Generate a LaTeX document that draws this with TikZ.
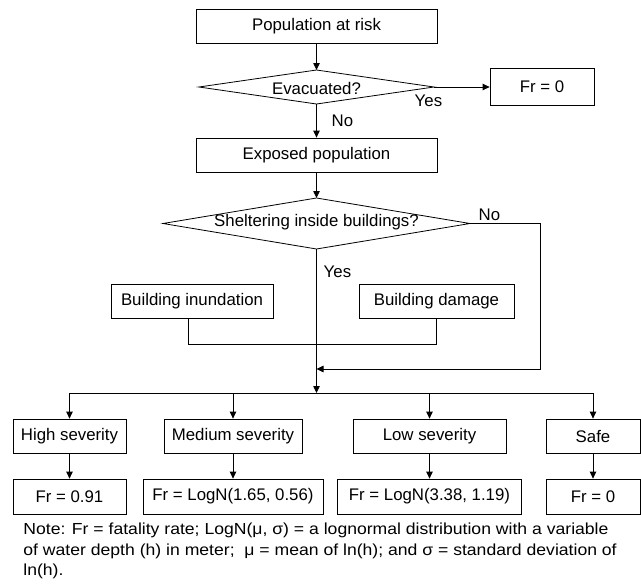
\documentclass[tikz,border=0pt]{standalone}
\usepackage{fontspec}
\setmainfont{Liberation Sans}
\newfontfamily\notefam[FakeStretch=1.1]{Liberation Sans}
\usetikzlibrary{arrows.meta}
\begin{document}
\begin{tikzpicture}[x=1pt,y=-1pt,line width=0.8pt,
  lbl/.style={font=\fontsize{16.8}{19}\selectfont},
  box/.style={draw, rectangle, inner sep=0pt, minimum height=34pt, minimum width=#1, lbl},
  arr/.style={-{Triangle[length=7pt,width=6.5pt]}},
  notefont/.style={font=\notefam\fontsize{16}{20.5}\selectfont}]
\useasboundingbox (0,0) rectangle (641,587);

% top chain
\node[box=241] (pop) at (316.5,26.5) {Population at risk};
\node[lbl] (evac) at (316.5,88) {Evacuated?};
\coordinate (evacT) at (316.5,70);
\coordinate (evacB) at (316.5,104);
\coordinate (evacL) at (199,87);
\coordinate (evacR) at (434,87);
\draw (evacL) -- (evacT) -- (evacR) -- (evacB) -- cycle;
\node[box=104, minimum height=37pt] (frtop) at (542,87) {Fr = 0};
\node[box=241] (exp) at (316.5,155) {Exposed population};
\node[lbl] (shel) at (316.5,222) {Sheltering inside buildings?};
\coordinate (shelT) at (316.5,198);
\coordinate (shelB) at (316.5,249);
\coordinate (shelL) at (163,223.5);
\coordinate (shelR) at (470,223.5);
\draw (shelL) -- (shelT) -- (shelR) -- (shelB) -- cycle;

\draw[arr] (pop.south) -- (evacT);
\draw[arr] (evacR) -- (frtop.west);
\draw[arr] (evacB) -- (exp.north);
\draw[arr] (exp.south) -- (shelT);
\node[lbl, anchor=west] (yes1) at (411,101) {Yes};
\node[lbl, anchor=west] (no1) at (328,121) {No};
\node[lbl, anchor=west] (no2) at (475,215) {No};
\node[lbl, anchor=west] (yes2) at (320,272) {Yes};

% building factors
\node[box=162] (inund) at (192,301) {Building inundation};
\node[box=155] (dam) at (436.5,301) {Building damage};
\coordinate (jl) at (188,344);
\coordinate (jr) at (436.5,344);
\draw ([xshift=-4pt]inund.south) -- (jl) -- (jr) -- (dam.south);

% main line and No path
\coordinate (bar) at (316.5,393);
\coordinate (noA) at (540,223.5);
\coordinate (noB) at (540,369);
\coordinate (noC) at (316.5,369);
\draw[arr] (shelB) -- (bar);
\draw[arr] (shelR) -- (noA) -- (noB) -- (noC);

% severity boxes
\node[box=113] (high) at (69.5,436) {High severity};
\node[box=138] (med) at (233,436) {Medium severity};
\node[box=153] (low) at (429.5,436) {Low severity};
\node[box=94] (safe) at (593,436) {Safe};
\coordinate (barL) at (69.5,393);
\coordinate (barR) at (593,393);
\draw (barL) -- (barR);
\draw[arr] (barL) -- (high.north);
\draw[arr] (bar -| med.north) -- (med.north);
\draw[arr] (bar -| low.north) -- (low.north);
\draw[arr] (barR) -- (safe.north);

% fatality rate boxes
\node[box=113, minimum height=35pt] (fr1) at (69.5,496.5) {Fr = 0.91};
\node[box=180, minimum height=35pt] (fr2) at (233,496.5) {Fr = LogN(1.65, 0.56)};
\node[box=184, minimum height=35pt] (fr3) at (429.5,496.5) {Fr = LogN(3.38, 1.19)};
\node[box=94, minimum height=35pt] (fr4) at (593,496.5) {Fr = 0};
\draw[arr] (high.south) -- (fr1.north);
\draw[arr] (med.south) -- (fr2.north);
\draw[arr] (low.south) -- (fr3.north);
\draw[arr] (safe.south) -- (fr4.north);

% note
\node[notefont, anchor=north west, align=left, inner sep=0pt] (note) at (23,523)
 {Note: Fr = fatality rate; LogN(μ, σ) = a lognormal distribution with a variable\\
  of water depth (h) in meter;\ \ μ = mean of ln(h); and σ = standard deviation of\\
  ln(h).};
\end{tikzpicture}
\end{document}
